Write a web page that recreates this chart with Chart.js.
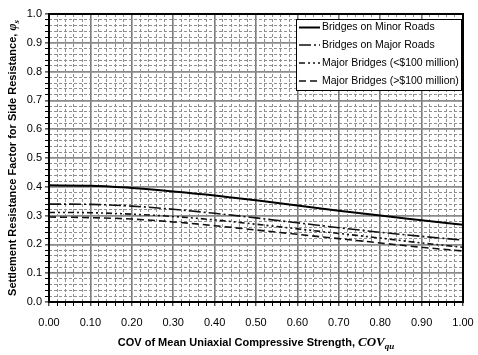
<!DOCTYPE html>
<html>
<head>
<meta charset="utf-8">
<script src="https://cdn.jsdelivr.net/npm/chart.js@4.4.1/dist/chart.umd.min.js"></script>
<style>
html,body{margin:0;padding:0;background:#fff;}
#wrap{width:478px;height:355px;position:relative;}
</style>
</head>
<body>
<div id="wrap"><canvas id="c" width="478" height="355"></canvas></div>
<script>
const covValues = [0.0, 0.1, 0.2, 0.3, 0.4, 0.5, 0.6, 0.7, 0.8, 0.9, 1.0];
const minorRoads = [0.405, 0.404, 0.396, 0.384, 0.370, 0.353, 0.335, 0.317, 0.300, 0.284, 0.268];
const majorRoads = [0.340, 0.339, 0.333, 0.322, 0.308, 0.292, 0.275, 0.258, 0.242, 0.228, 0.215];
const bridgesUnder100M = [0.311, 0.310, 0.305, 0.297, 0.285, 0.270, 0.254, 0.238, 0.222, 0.205, 0.190];
const bridgesOver100M = [0.295, 0.293, 0.288, 0.278, 0.265, 0.250, 0.235, 0.220, 0.205, 0.190, 0.177];
const seriesNames = ["Bridges on Minor Roads", "Bridges on Major Roads", "Major Bridges (<$100 million)", "Major Bridges (>$100 million)"];
const xTitleMain = "COV of Mean Uniaxial Compressive Strength, ";
const xTitleSym = "COV";
const xTitleSub = "qu";
const yTitleMain = "Settlement Resistance Factor for Side Resistance, ";
const yTitleSym = "\u03C6";
const yTitleSub = "s";

function pts(arr){ return covValues.map((x,i)=>({x:x, y:arr[i]})); }
const isMajor = v => Math.round(v*50) % 5 === 0;

const datasets = [
  {label: seriesNames[0], data: pts(minorRoads), borderColor:'#000', borderWidth:2, borderDash:[]},
  {label: seriesNames[1], data: pts(majorRoads), borderColor:'#111', borderWidth:1.6, borderDash:[12,3,2,3]},
  {label: seriesNames[2], data: pts(bridgesUnder100M), borderColor:'#111', borderWidth:1.6, borderDash:[6,3,2,3,2,3]},
  {label: seriesNames[3], data: pts(bridgesOver100M), borderColor:'#111', borderWidth:1.6, borderDash:[7,4]}
].map(d => Object.assign(d, {pointRadius:0, tension:0.4, fill:false, cubicInterpolationMode:'monotone'}));

const frameLegendPlugin = {
  id:'frameLegend',
  afterDatasetsDraw(chart){
    const {ctx, chartArea:a} = chart;
    ctx.save();
    ctx.strokeStyle = '#000'; ctx.lineWidth = 2;
    ctx.strokeRect(a.left, a.top, a.right-a.left, a.bottom-a.top);
    const bx = 296, by = 19, bw = 165, bh = 71;
    ctx.fillStyle = '#fff';
    ctx.fillRect(bx, by, bw, bh);
    ctx.strokeStyle = '#000'; ctx.lineWidth = 1;
    ctx.strokeRect(bx+0.5, by+0.5, bw, bh);
    const rows = [27.5, 45, 63, 81];
    chart.data.datasets.forEach((ds, i) => {
      const y = rows[i];
      ctx.beginPath();
      ctx.setLineDash(ds.borderDash || []);
      ctx.strokeStyle = ds.borderColor; ctx.lineWidth = ds.borderWidth;
      ctx.moveTo(299, y); ctx.lineTo(320, y); ctx.stroke();
      ctx.setLineDash([]);
      ctx.fillStyle = '#000';
      ctx.font = '10.5px "Liberation Sans", Arial, sans-serif';
      ctx.textBaseline = 'middle'; ctx.textAlign = 'left';
      ctx.fillText(ds.label, 322, y);
    });
    ctx.restore();
  },
  afterDraw(chart){
    const {ctx, chartArea:a} = chart;
    ctx.save();
    ctx.fillStyle = '#000';
    ctx.textBaseline = 'alphabetic';
    const fMain = 'bold 11px "Liberation Sans", Arial, sans-serif';
    const fSym = 'italic bold 13px "Liberation Serif", "Times New Roman", serif';
    const fSub = 'italic bold 9px "Liberation Serif", "Times New Roman", serif';
    ctx.font = fMain; const w1 = ctx.measureText(xTitleMain).width;
    ctx.font = fSym; const w2 = ctx.measureText(xTitleSym).width;
    ctx.font = fSub; const w3 = ctx.measureText(xTitleSub).width;
    let x = (a.left + a.right)/2 - (w1+w2+w3)/2;
    const y = 346;
    ctx.font = fMain; ctx.fillText(xTitleMain, x, y); x += w1;
    ctx.font = fSym; ctx.fillText(xTitleSym, x, y); x += w2;
    ctx.font = fSub; ctx.fillText(xTitleSub, x, y+3);
    ctx.translate(16, (a.top + a.bottom)/2);
    ctx.rotate(-Math.PI/2);
    ctx.font = fMain; const v1 = ctx.measureText(yTitleMain).width;
    const fSym2 = 'italic bold 12px "Liberation Serif", "Times New Roman", serif';
    ctx.font = fSym2; const v2 = ctx.measureText(yTitleSym).width;
    ctx.font = fSub; const v3 = ctx.measureText(yTitleSub).width;
    let t = -(v1+v2+v3)/2;
    ctx.font = fMain; ctx.fillText(yTitleMain, t, 0); t += v1;
    ctx.font = fSym2; ctx.fillText(yTitleSym, t, 0); t += v2;
    ctx.font = fSub; ctx.fillText(yTitleSub, t, 3);
    ctx.restore();
  }
};

const tickFont = {family:'"Liberation Sans", Arial, sans-serif', size:11};
const minorTicks = s => { s.ticks = Array.from({length:51}, (_,i)=>({value:i/50})); };
const noPad = s => { s.paddingLeft = 0; s.paddingRight = 0; s.paddingTop = 0; s.paddingBottom = 0; };

new Chart(document.getElementById('c'), {
  type:'line',
  data:{datasets},
  plugins:[frameLegendPlugin],
  options:{
    responsive:false, animation:false,
    layout:{padding:{top:14, right:15, left:0, bottom:0}},
    plugins:{legend:{display:false}, tooltip:{enabled:false}},
    scales:{
      x:{
        type:'linear', min:0, max:1, position:'bottom',
        afterBuildTicks: minorTicks,
        afterFit(s){ s.height = 53; noPad(s); },
        ticks:{autoSkip:false, maxRotation:0, padding:10, color:'#000', font:tickFont,
          callback:(v)=> isMajor(v) ? v.toFixed(2) : ''},
        grid:{
          color:(c)=> isMajor(c.tick.value) ? '#7a7a7a' : 'rgba(0,0,0,0)',
          lineWidth:(c)=> isMajor(c.tick.value) ? 1.6 : 1,
          tickColor:'#000', tickLength:4, tickWidth:1
        },
        border:{display:true, color:'#000', width:2}
      },
      y:{
        type:'linear', min:0, max:1, position:'left',
        afterBuildTicks: minorTicks,
        afterFit(s){ s.width = 49; noPad(s); },
        ticks:{autoSkip:false, padding:3, color:'#000', font:tickFont,
          callback:(v)=> isMajor(v) ? v.toFixed(1) : ''},
        grid:{
          color:(c)=> isMajor(c.tick.value) ? '#8a8a8a' : 'rgba(0,0,0,0)',
          lineWidth:(c)=> isMajor(c.tick.value) ? 1.8 : 1,
          tickColor:'#000', tickLength:4, tickWidth:1
        },
        border:{display:true, color:'#000', width:2}
      },
      x2:{
        type:'linear', min:0, max:1, position:'top',
        afterBuildTicks: minorTicks,
        afterFit(s){ s.height = 0; noPad(s); },
        ticks:{display:false},
        grid:{drawTicks:false, color:(c)=> isMajor(c.tick.value) ? 'rgba(0,0,0,0)' : '#8f8f8f', lineWidth:1},
        border:{display:false, dash:[3,2]}
      },
      y2:{
        type:'linear', min:0, max:1, position:'right',
        afterBuildTicks: minorTicks,
        afterFit(s){ s.width = 0; noPad(s); },
        ticks:{display:false},
        grid:{drawTicks:false, color:(c)=> isMajor(c.tick.value) ? 'rgba(0,0,0,0)' : '#8f8f8f', lineWidth:1},
        border:{display:false, dash:[3,2]}
      }
    }
  }
});
</script>
</body>
</html>
